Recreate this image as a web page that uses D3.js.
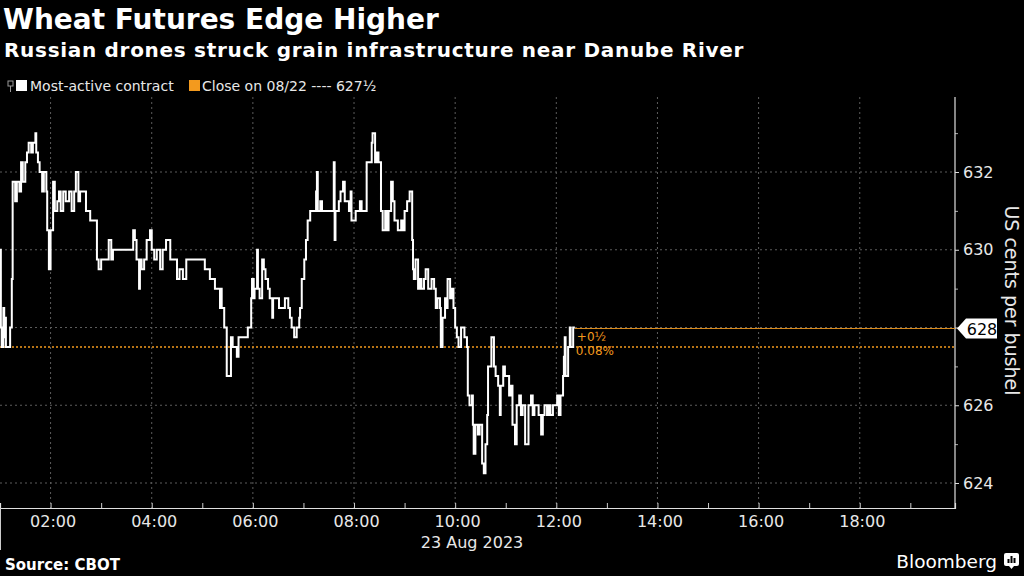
<!DOCTYPE html>
<html><head><meta charset="utf-8">
<script src="https://cdn.jsdelivr.net/npm/d3@7"></script>
<style>html,body{margin:0;padding:0;background:#000;}svg{display:block}</style>
</head><body>
<svg id="c" width="1024" height="576"></svg>
<script>
// ---- DATA ----
// minutes after midnight, 23 Aug 2023
const timesMin = [
  60,61,62,64,65,66,67,69,72,74,
  75,78,80,83,85,87,90,92,94,97,
  99,102,103,105,107,110,112,115,116,118,
  120,123,125,128,130,132,135,138,142,145,
  148,150,153,155,158,162,167,173,175,177,
  180,183,187,189,192,194,199,205,212,215,
  218,220,222,225,226,228,231,234,238,240,
  243,246,250,253,257,262,265,270,273,277,
  281,285,289,295,303,309,315,319,321,322,
  323,326,328,329,333,334,336,339,341,343,
  346,348,351,354,357,358,359,361,362,365,
  366,368,371,373,375,378,380,383,384,387,
  391,394,398,402,404,406,409,412,415,416,
  418,421,423,425,428,431,435,436,437,440,
  442,445,449,453,456,457,458,462,464,467,
  469,472,474,476,477,480,482,485,487,489,
  493,495,499,501,502,505,507,509,512,514,
  517,519,521,524,526,528,532,536,538,540,
  543,546,549,550,551,553,556,558,560,563,
  565,568,570,572,575,577,579,582,583,585,
  588,590,591,594,596,598,600,602,604,607,
  609,611,614,615,617,620,621,622,624,627,
  629,632,634,635,636,638,639,641,643,646,
  648,651,653,654,657,659,661,664,666,668,
  671,673,676,678,680,683,685,687,690,692,
  694,697,699,702,704,706,709,711,713,716,
  718,721,723,725,728,729,730,731,734,736,
  737,740,742
];
// most-active contract price, US cents per bushel
const prices = [
  630,628,627.5,628.5,627.75,628.25,627.5,627.5,628,629.25,
  631.75,631.25,631.75,631.5,632.25,631.75,632.25,632.5,632.75,632.5,
  632.75,633,632.5,632.25,632,631.5,632,631.5,630.5,629.5,
  630.5,631.75,631,631.25,631.5,631,631.5,631.25,631.5,631,
  631.5,632,631.25,631.5,631.5,631,630.75,630.75,629.75,629.5,
  629.75,629.75,629.75,630.25,629.75,630,630,630,630,630,
  630.5,630.25,629.75,629,629.75,629.5,629.75,630.25,630.5,630,
  629.75,630,629.5,630,630.25,629.75,629.75,629.25,629.5,629.25,
  629.75,629.75,629.75,629.75,629.5,629.25,629,629,628.5,629,
  628.5,628,628,626.75,626.75,627.75,627.5,627.5,627.25,627.75,
  627.75,627.75,627.75,628,628,628.75,629.25,628.75,629,630,
  629,628.75,629.75,629.5,629.25,629,628.75,628.25,628.75,628.75,
  628.5,628.5,628.75,628.5,628.25,628,627.75,628,628.25,628.5,
  629.25,629.75,630.25,630.75,631,631,631.5,632,631,631.25,
  631,631,631,631,632.25,630.25,631,631.25,631.5,631.75,
  631.25,631.25,631,631.5,630.75,630.75,631,631,631.25,631,
  631,632.25,632.25,632.75,633,632.25,632.5,632.25,631,630.5,
  631,630.5,631,631.75,631.25,630.75,630.5,630.75,630.5,631,
  631.25,631.5,630.25,629.5,629.25,629.75,629,629.25,629,629.25,
  629.5,629,629,629.25,629,628.5,628.75,628.5,627.5,628.25,
  628.75,628.5,629.25,628.75,629,628.5,628,627.75,627.5,628,
  628,627.75,627.5,626.25,626,626.25,625.5,624.75,625.5,625.25,
  625.5,624.5,624.25,624.25,625,625.75,627,627,627.75,627,
  626.75,626.5,625.75,626.5,627,626.75,626.75,626.25,626.5,625.5,
  625,626,626.25,625.75,626,625,625,626,626.25,625.75,
  626,626,625.75,625.25,625.75,626,625.75,626,625.75,626,
  626,626.25,625.75,626.25,626.75,627.25,627.75,626.75,627.5,628,
  627.5,628,628
];
const yTickValues = [624, 626, 628, 630, 632];
const yMinorValues = [625, 627, 629, 631, 633];
const xLabelHours = [2, 4, 6, 8, 10, 12, 14, 16, 18];
const xTickHours = [2, 3, 4, 5, 6, 7, 8, 9, 10, 11, 12, 13, 14, 15, 16, 17, 18, 19];
const domainMinutes = [60, 1193];
const prevClose = 627.5;
const prevCloseLabel = "627½";
const lastLabel = "628";
const changeLabel = "+0½";
const changePctLabel = "0.08%";

// ---- LAYOUT ----
const W = 1024, H = 576;
const P = {left: 0, right: 955, top: 97, bottom: 508};
const ORANGE = "#f39a1e";
const GRID = "#5c5c5c";
const TXT = "#e8e8e8";
const FONT = "'DejaVu Sans', Verdana, sans-serif";

const svg = d3.select("#c");
svg.append("rect").attr("width", W).attr("height", H).attr("fill", "#000");

const toDate = m => new Date(2023, 7, 23, Math.floor(m / 60), m % 60);
const data = timesMin.map((m, i) => ({t: toDate(m), v: prices[i]}));

const x = d3.scaleTime().domain(domainMinutes.map(toDate)).range([P.left, P.right]);
const y = d3.scaleLinear().domain([624, 632]).range([483, 172]);

// grid
const g = svg.append("g");
g.selectAll(".hg").data(yTickValues).join("line")
  .attr("x1", P.left).attr("x2", P.right)
  .attr("y1", d => y(d)).attr("y2", d => y(d))
  .attr("stroke", GRID).attr("stroke-width", 1).attr("stroke-dasharray", "2,3");
g.selectAll(".vg").data(xLabelHours).join("line")
  .attr("x1", d => x(toDate(d * 60))).attr("x2", d => x(toDate(d * 60)))
  .attr("y1", P.top).attr("y2", P.bottom)
  .attr("stroke", GRID).attr("stroke-width", 1).attr("stroke-dasharray", "2,3");

// x axis: hourly ticks pointing up
const xAxisTicks = d3.axisBottom(x).tickValues(xTickHours.map(h => toDate(h * 60)))
  .tickSize(-5).tickFormat("");
const gxm = svg.append("g").attr("transform", `translate(0,${P.bottom})`).call(xAxisTicks);
gxm.select(".domain").attr("stroke", "#e0e0e0").attr("stroke-width", 1.2);
gxm.selectAll(".tick line").attr("stroke", "#ccc");

const xAxisLabels = d3.axisBottom(x).tickValues(xLabelHours.map(h => toDate(h * 60)))
  .tickSize(0).tickPadding(8).tickFormat(d3.timeFormat("%H:%M"));
const gxl = svg.append("g").attr("transform", `translate(2,${P.bottom})`).call(xAxisLabels);
gxl.select(".domain").remove();
gxl.selectAll("text").attr("fill", TXT).attr("font-size", 16).attr("font-family", FONT);

// day separator at left edge
svg.append("line").attr("x1", P.left + 0.5).attr("x2", P.left + 0.5)
  .attr("y1", P.bottom).attr("y2", 550).attr("stroke", "#ccc").attr("stroke-width", 1);
svg.append("text").attr("x", x(toDate(10 * 60 + 20))).attr("y", 548)
  .attr("text-anchor", "middle").attr("fill", TXT)
  .attr("font-size", 16).attr("font-family", FONT).text("23 Aug 2023");

// y axis (right) — last price tag replaces its own tick label
const yAxis = d3.axisRight(y).tickValues(yTickValues).tickSize(4).tickPadding(4)
  .tickFormat(d => (d === +lastLabel ? "" : d3.format("d")(d)));
const gy = svg.append("g").attr("transform", `translate(${P.right},0)`).call(yAxis);
gy.select(".domain").remove();
gy.selectAll(".tick line").attr("stroke", "#ddd");
gy.selectAll("text").attr("fill", TXT).attr("font-size", 16).attr("font-family", FONT);
const yMinor = d3.axisRight(y).tickValues(yMinorValues).tickSize(3).tickFormat("");
const gym = svg.append("g").attr("transform", `translate(${P.right},0)`).call(yMinor);
gym.select(".domain").remove();
gym.selectAll(".tick line").attr("stroke", "#aaa");
svg.append("line").attr("x1", P.right).attr("x2", P.right).attr("y1", P.top).attr("y2", P.bottom)
  .attr("stroke", "#e0e0e0").attr("stroke-width", 1.2);

svg.append("text")
  .attr("transform", `translate(1005,${(P.top + P.bottom) / 2 - 2}) rotate(90)`)
  .attr("text-anchor", "middle").attr("fill", TXT)
  .attr("font-size", 19).attr("font-family", FONT).text("US cents per bushel");

// previous close line
svg.append("line").attr("x1", P.left).attr("x2", P.right)
  .attr("y1", y(prevClose)).attr("y2", y(prevClose))
  .attr("stroke", ORANGE).attr("stroke-width", 1.6).attr("stroke-dasharray", "2,2");

// last price line
const last = data[data.length - 1];
svg.append("line").attr("x1", x(last.t)).attr("x2", P.right)
  .attr("y1", Math.round(y(last.v)) + 0.5).attr("y2", Math.round(y(last.v)) + 0.5)
  .attr("stroke", "#d98a1c").attr("stroke-width", 1.2);

// price line
const line = d3.line().x(d => x(d.t)).y(d => y(d.v)).curve(d3.curveStepAfter);
svg.append("path").datum(data).attr("d", line)
  .attr("fill", "none").attr("stroke", "#fff").attr("stroke-width", 2)
  .attr("stroke-linejoin", "miter");

// change annotations
svg.append("text").attr("x", x(last.t) + 2).attr("y", y(last.v) + 13)
  .attr("fill", ORANGE).attr("font-size", 12).attr("font-family", FONT).text(changeLabel);
svg.append("text").attr("x", x(last.t) + 1).attr("y", y(last.v) + 27)
  .attr("fill", ORANGE).attr("font-size", 12).attr("font-family", FONT).text(changePctLabel);

// last price tag
const ty = Math.round(y(last.v)) + 0.5;
svg.append("path")
  .attr("d", `M${P.right + 2},${ty} L${P.right + 11},${ty - 10} L${P.right + 42},${ty - 10} L${P.right + 42},${ty + 10} L${P.right + 11},${ty + 10} Z`)
  .attr("fill", "#fff");
svg.append("text").attr("x", P.right + 27).attr("y", ty + 6).attr("text-anchor", "middle")
  .attr("fill", "#000").attr("font-size", 16).attr("font-family", FONT).text(lastLabel);

// titles
svg.append("text").attr("x", 3).attr("y", 29).attr("fill", "#fff")
  .attr("font-size", 28).attr("font-weight", "bold").attr("font-family", FONT)
  .text("Wheat Futures Edge Higher");
svg.append("text").attr("x", 4).attr("y", 57).attr("fill", "#fff")
  .attr("font-size", 20).attr("font-weight", "bold").attr("font-family", FONT)
  .attr("letter-spacing", 0.7)
  .text("Russian drones struck grain infrastructure near Danube River");

// legend
const lg = svg.append("g");
lg.append("rect").attr("x", 8).attr("y", 81).attr("width", 5).attr("height", 5)
  .attr("fill", "none").attr("stroke", "#999").attr("stroke-width", 1);
lg.append("line").attr("x1", 10.5).attr("x2", 10.5).attr("y1", 86).attr("y2", 92)
  .attr("stroke", "#999").attr("stroke-width", 1);
lg.append("rect").attr("x", 16).attr("y", 80).attr("width", 11).attr("height", 11).attr("fill", "#fff");
lg.append("text").attr("x", 30).attr("y", 91).attr("fill", TXT)
  .attr("font-size", 14).attr("font-family", FONT).text("Most-active contract");
lg.append("rect").attr("x", 189).attr("y", 80).attr("width", 11).attr("height", 11).attr("fill", ORANGE);
lg.append("text").attr("x", 202).attr("y", 91).attr("fill", TXT)
  .attr("font-size", 14).attr("font-family", FONT).text("Close on 08/22 ---- " + prevCloseLabel);

// footer
svg.append("text").attr("x", 5).attr("y", 570).attr("fill", "#fff")
  .attr("font-size", 15).attr("font-weight", "bold").attr("font-family", FONT).text("Source: CBOT");
svg.append("text").attr("x", 997).attr("y", 568).attr("text-anchor", "end").attr("fill", "#fff")
  .attr("font-size", 18.5).attr("font-family", FONT).text("Bloomberg");
svg.append("rect").attr("x", 1004).attr("y", 553).attr("width", 15).attr("height", 13)
  .attr("rx", 2).attr("fill", "#fff");
svg.append("path").attr("d", "M1009,566 L1011.5,569 L1014,566 Z").attr("fill", "#fff");
svg.selectAll(".bbar").data([4, 7, 5]).join("rect")
  .attr("x", (d, i) => 1007.5 + i * 3).attr("y", d => 563 - d).attr("width", 2).attr("height", d => d)
  .attr("fill", "#000");
</script>
</body></html>
